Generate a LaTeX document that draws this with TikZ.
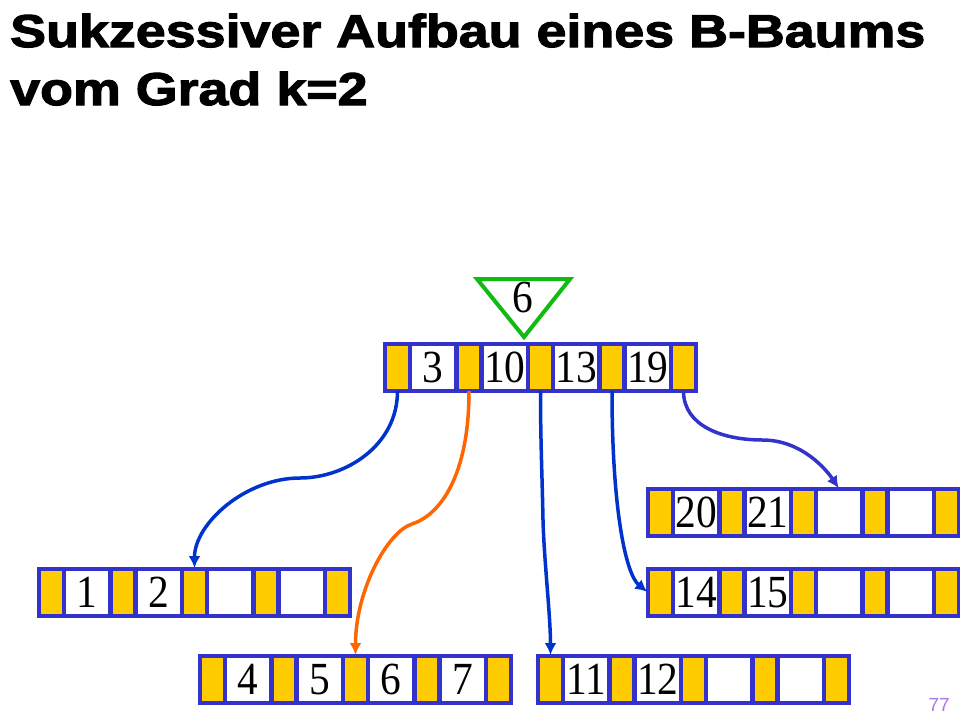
\documentclass[tikz,border=0pt]{standalone}
\usepackage{fontspec}
\setmainfont{Liberation Serif}
\newfontfamily\titelschrift{Liberation Sans}[FakeStretch=1.17,BoldFeatures={FakeBold=2.5}]
\newfontfamily\zahlschrift{Liberation Serif}[FakeStretch=0.9]
\newfontfamily\seitenschrift{Liberation Sans}
\usetikzlibrary{positioning,arrows.meta}

\definecolor{rahmenblau}{RGB}{51,51,204}
\definecolor{zeigergelb}{RGB}{255,204,0}
\definecolor{pfeilblau}{RGB}{0,51,204}
\definecolor{pfeilorange}{RGB}{255,102,0}
\definecolor{dreieckgruen}{RGB}{17,187,17}
\definecolor{seitenlila}{RGB}{170,120,230}

% B-Baum-Knoten: Name, linke obere Ecke, vier Schluessel
\newcommand{\bknoten}[6]{%
  \node[zeiger, anchor=north west] (#1-z1) at (#2) {};
  \node[schluessel, right=0pt of #1-z1] (#1-s1) {#3};
  \node[zeiger, right=0pt of #1-s1] (#1-z2) {};
  \node[schluessel, right=0pt of #1-z2] (#1-s2) {#4};
  \node[zeiger, right=0pt of #1-s2] (#1-z3) {};
  \node[schluessel, right=0pt of #1-z3] (#1-s3) {#5};
  \node[zeiger, right=0pt of #1-s3] (#1-z4) {};
  \node[schluessel, right=0pt of #1-z4] (#1-s4) {#6};
  \node[zeiger, right=0pt of #1-s4] (#1-z5) {};
}

\begin{document}
\begin{tikzpicture}[x=1pt, y=-1pt,
    zeiger/.style={rectangle, draw=rahmenblau, fill=zeigergelb, line width=4.5pt, inner sep=0pt, outer sep=0pt, minimum width=25pt, minimum height=47pt},
    schluessel/.style={zeiger, fill=white, minimum width=46.5pt, font=\zahlschrift\fontsize{46pt}{46pt}\selectfont},
    pfeil/.style={line width=3.5pt, draw=pfeilblau, -{Latex[length=12pt,width=12pt]}, shorten >=1pt},
    titel/.style={inner sep=0pt, font=\titelschrift\bfseries\fontsize{46pt}{58pt}\selectfont},
    dreieck/.style={draw=dreieckgruen, line width=4pt}]
    \useasboundingbox (0,0) rectangle (960,720);

    \node[titel, anchor=base west] (titel1) at (10,47) {Sukzessiver Aufbau eines B-Baums};
    \node[titel, anchor=base west] (titel2) at (10,105) {vom Grad k=2};

    \bknoten{w}{385,344}{3}{10}{13}{19}
    \bknoten{b1}{39,569}{1}{2}{}{}
    \bknoten{b2}{200,656}{4}{5}{6}{7}
    \bknoten{b3}{538,656}{11}{12}{}{}
    \bknoten{b4}{648,489}{20}{21}{}{}
    \bknoten{b5}{648,569}{14}{15}{}{}

    % neuer Schluessel
    \node[inner sep=0pt, font=\zahlschrift\fontsize{46pt}{46pt}\selectfont] (neu) at (523,297) {6};
    \draw[dreieck] (neu.center) ++(-46,-18) -- ++(93,0) -- ++(-46,58) -- cycle;

    \draw[pfeil] (w-z1.south) .. controls +(0,55) and +(45,0) .. ++(-97.5,87) .. controls +(-55,0) and +(0,-45) .. (b1-z3.north);
    \draw[pfeil, draw=pfeilorange] (w-z2.south) .. controls +(0,85) and +(28,-9) .. ++(-57,133) .. controls +(-25,8) and +(0,-65) .. (b2-z3.north);
    \draw[pfeil] (w-z3.south) .. controls +(0,50) and +(-1,-50) .. ++(2.5,129) .. controls +(1,40) and +(0,-40) .. (b3-z1.north);
    \draw[pfeil] (w-z4.south) .. controls +(0,120) and +(-22,-18) .. (b5-z1.west);
    \draw[pfeil, draw=rahmenblau] (w-z5.south) .. controls +(0,35) and +(-40,0) .. ++(79,49) .. controls +(40,0) and +(-12,-18) .. (b4-s3.north);

    \node[anchor=base east, inner sep=0pt, text=seitenlila, font=\seitenschrift\fontsize{19pt}{19pt}\selectfont] (seite) at (950,711) {77};
\end{tikzpicture}
\end{document}
